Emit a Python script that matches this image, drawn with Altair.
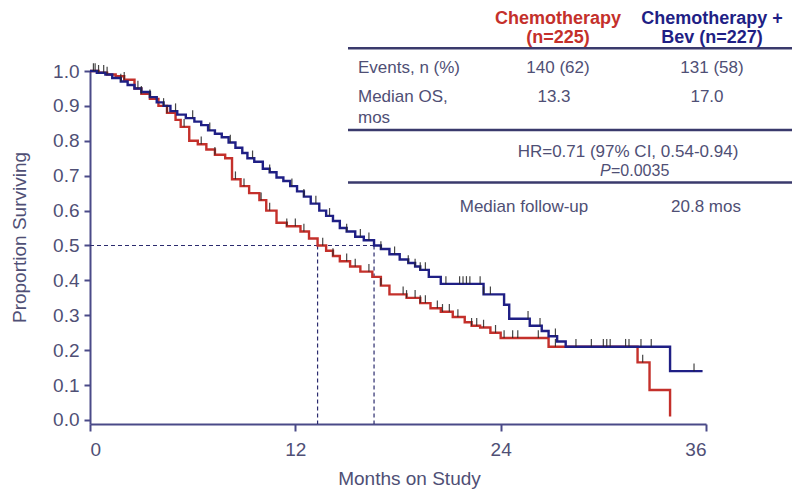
import altair as alt
import pandas as pd

# ---- data ----
chemo_months = [0, 0.5, 1.0, 1.5, 2.0, 2.6, 3.0, 3.5, 4.0, 4.5, 5.0, 5.3, 5.8, 6.3, 6.8, 7.3,
                7.9, 8.3, 8.8, 9.3, 9.9, 10.3, 10.9, 11.5, 12.3, 12.8, 13.3, 13.8, 14.2, 14.6,
                15.2, 15.8, 16.5, 17.0, 17.5, 18.5, 19.3, 19.9, 20.5, 21.2, 21.9, 22.3, 22.8,
                23.4, 24.0, 26.8, 32.0, 32.7, 33.9]
chemo_surv = [1.0, 0.995, 0.99, 0.985, 0.975, 0.95, 0.935, 0.92, 0.90, 0.88, 0.86, 0.84, 0.80,
              0.79, 0.775, 0.76, 0.75, 0.69, 0.67, 0.65, 0.63, 0.60, 0.565, 0.555, 0.54, 0.52,
              0.50, 0.485, 0.47, 0.455, 0.44, 0.425, 0.41, 0.385, 0.36, 0.35, 0.335, 0.32, 0.31,
              0.295, 0.28, 0.27, 0.265, 0.25, 0.235, 0.21, 0.165, 0.086, 0.01]

bev_months = [0, 0.4, 0.9, 1.3, 1.8, 2.2, 2.6, 3.0, 3.5, 3.9, 4.3, 4.7, 5.1, 5.6, 6.1, 6.5, 6.9,
              7.3, 7.7, 8.1, 8.5, 8.9, 9.2, 9.6, 10.1, 10.5, 10.9, 11.3, 11.7, 12.1, 12.5, 12.9,
              13.4, 13.8, 14.2, 14.6, 15.0, 15.5, 16.0, 16.6, 17.0, 17.5, 18.1, 18.6, 19.0, 19.3,
              19.8, 20.5, 23.0, 24.2, 24.5, 25.7, 26.4, 26.8, 27.3, 27.8, 33.9, 35.8]
bev_surv = [1.0, 0.995, 0.99, 0.98, 0.97, 0.96, 0.95, 0.94, 0.925, 0.91, 0.90, 0.885, 0.875,
            0.865, 0.855, 0.845, 0.83, 0.82, 0.81, 0.795, 0.78, 0.765, 0.75, 0.74, 0.72, 0.71,
            0.695, 0.685, 0.67, 0.655, 0.64, 0.62, 0.60, 0.585, 0.57, 0.55, 0.54, 0.525, 0.515,
            0.50, 0.49, 0.475, 0.46, 0.45, 0.44, 0.43, 0.41, 0.39, 0.36, 0.33, 0.29, 0.27, 0.255,
            0.24, 0.225, 0.21, 0.14, 0.14]

chemo_censor = [0.3, 0.8, 2.0, 3.0, 4.5, 5.5, 6.5, 7.3, 8.5, 9.0, 10.0, 10.5, 11.5, 12.0, 12.5,
                13.6, 14.2, 15.0, 15.5, 16.3, 17.0, 18.3, 18.5, 19.0, 19.3, 19.6, 20.3, 20.6,
                21.0, 21.5, 22.3, 22.6, 23.0, 23.7, 24.2, 24.7, 25.0, 26.2, 27.2, 32.3]
bev_censor = [0.2, 0.5, 1.0, 1.8, 2.8, 3.5, 4.3, 5.0, 6.0, 7.0, 8.2, 9.5, 10.5, 11.8, 12.5,
              13.2, 14.0, 15.0, 15.8, 16.3, 17.0, 17.8, 18.6, 19.0, 19.3, 19.6, 20.8, 21.6,
              21.8, 22.0, 22.2, 22.8, 23.0, 23.4, 25.6, 26.3, 27.2, 28.4, 29.3, 30.0, 30.2,
              30.4, 31.3, 31.5, 32.2, 32.8, 35.3]

x_ticks = [0, 12, 24, 36]
y_ticks = [0.0, 0.1, 0.2, 0.3, 0.4, 0.5, 0.6, 0.7, 0.8, 0.9, 1.0]
median_chemo = 13.3
median_bev = 16.6

header_chemo = ["Chemotherapy", "(n=225)"]
header_bev = ["Chemotherapy +", "Bev (n=227)"]
row_labels = ["Events, n (%)", "Median OS,", "mos"]
chemo_vals = ["140 (62)", "13.3"]
bev_vals = ["131 (58)", "17.0"]
hr_text = "HR=0.71 (97% CI, 0.54-0.94)"
p_label = "P"
p_value = "=0.0035"
followup_label = "Median follow-up"
followup_value = "20.8 mos"

# ---- styling ----
RED = "#c4302b"
BLUE = "#1f1f85"
TXT = "#4f4f75"
AXC = "#4a4a88"
LINEC = "#3a3a6c"
FONT = "Liberation Sans"
W, H = 616, 353


def surv_at(months, surv, t):
    val = surv[0]
    for m, s in zip(months, surv):
        if m <= t:
            val = s
    return val


chemo_df = pd.DataFrame({"month": chemo_months, "surv": chemo_surv})
bev_df = pd.DataFrame({"month": bev_months, "surv": bev_surv})
chemo_c = pd.DataFrame({"month": chemo_censor,
                        "surv": [surv_at(chemo_months, chemo_surv, t) for t in chemo_censor]})
bev_c = pd.DataFrame({"month": bev_censor,
                      "surv": [surv_at(bev_months, bev_surv, t) for t in bev_censor]})

xscale = alt.Scale(domain=[0, 36], nice=False, zero=False)
yscale = alt.Scale(domain=[-0.0115, 1.0], nice=False, zero=False)

xaxis = alt.Axis(values=x_ticks, title="Months on Study", grid=False, tickSize=7,
                 tickWidth=2, domainWidth=2, labelPadding=9, titleX=319, titleY=54,
                 titleBaseline="middle", titleAlign="center")
yaxis = alt.Axis(values=y_ticks, format=".1f", title="Proportion Surviving", grid=False,
                 tickSize=6, tickWidth=2, domainWidth=2, labelPadding=5, titleX=-71,
                 titleY=166, titleAngle=270, titleBaseline="middle", titleAlign="center")


def X():
    return alt.X("month:Q", scale=xscale, axis=xaxis)


def Y():
    return alt.Y("surv:Q", scale=yscale, axis=yaxis)


chemo_line = alt.Chart(chemo_df).mark_line(interpolate="step-after", color=RED,
                                           strokeWidth=2.4).encode(x=X(), y=Y())
bev_line = alt.Chart(bev_df).mark_line(interpolate="step-after", color=BLUE,
                                       strokeWidth=2.4).encode(x=X(), y=Y())

censor_style = dict(shape="M0,0L0,-1", filled=False, strokeWidth=1.2, size=240,
                    color="#262626", opacity=0.85)
chemo_cens = alt.Chart(chemo_c).mark_point(**censor_style).encode(x=X(), y=Y())
bev_cens = alt.Chart(bev_c).mark_point(**censor_style).encode(x=X(), y=Y())

# median reference lines
hline_df = pd.DataFrame({"month": [0], "month2": [median_bev], "surv": [0.5]})
vline_df = pd.DataFrame({"month": [median_chemo, median_bev], "surv": [0.5, 0.5],
                         "surv2": [-0.0115, -0.0115]})
dash = dict(color="#2b2b6e", strokeWidth=1.2, strokeDash=[4, 3])
hline = alt.Chart(hline_df).mark_rule(**dash).encode(x=X(), x2="month2:Q", y=Y())
vline = alt.Chart(vline_df).mark_rule(**dash).encode(x=X(), y=Y(), y2="surv2:Q")


# ---- table (positions relative to plot origin, y = text baseline) ----
def txt(text, x, y, color=TXT, weight="normal", align="center", style="normal", size=17):
    return alt.Chart(pd.DataFrame({"t": [text]})).mark_text(
        font=FONT, fontSize=size, fontWeight=weight, fontStyle=style, color=color,
        align=align, baseline="alphabetic").encode(x=alt.value(x), y=alt.value(y), text="t:N")


def hrule(y):
    return alt.Chart(pd.DataFrame({"t": [0]})).mark_rule(color=LINEC, strokeWidth=2.5).encode(
        x=alt.value(258), x2=alt.value(703), y=alt.value(y))


table = [
    txt(header_chemo[0], 468, -47.5, RED, "bold", size=18),
    txt(header_chemo[1], 468, -28.5, RED, "bold", size=18),
    txt(header_bev[0], 622, -47.5, BLUE, "bold", size=18),
    txt(header_bev[1], 622, -28.5, BLUE, "bold", size=18),
    hrule(-22.7),
    txt(row_labels[0], 268, 1.7, align="left"),
    txt(chemo_vals[0], 468, 1.7),
    txt(bev_vals[0], 622, 1.7),
    txt(row_labels[1], 268, 30.7, align="left"),
    txt(row_labels[2], 268, 51.7, align="left"),
    txt(chemo_vals[1], 464, 30.7),
    txt(bev_vals[1], 617, 30.7),
    hrule(59),
    txt(hr_text, 538, 86),
    txt(p_label, 510, 105, align="left", style="italic", size=16),
    txt(p_value, 521, 105, align="left", size=16),
    hrule(111.5),
    txt(followup_label, 434, 140.7),
    txt(followup_value, 616, 140.7),
]

chart = alt.layer(hline, vline, chemo_line, bev_line, chemo_cens, bev_cens, *table).properties(
    width=W, height=H,
    autosize=alt.AutoSizeParams(type="none"),
    padding={"left": 82, "top": 63, "right": 86, "bottom": 80},
).configure_view(stroke=None).configure_axis(
    labelFont=FONT, titleFont=FONT, labelFontSize=19, titleFontSize=19, labelColor=TXT,
    titleColor=TXT, titleFontWeight="normal", domainColor=AXC, tickColor=AXC,
)

chart.save("out.html", embed_options={"renderer": "svg", "actions": False})
